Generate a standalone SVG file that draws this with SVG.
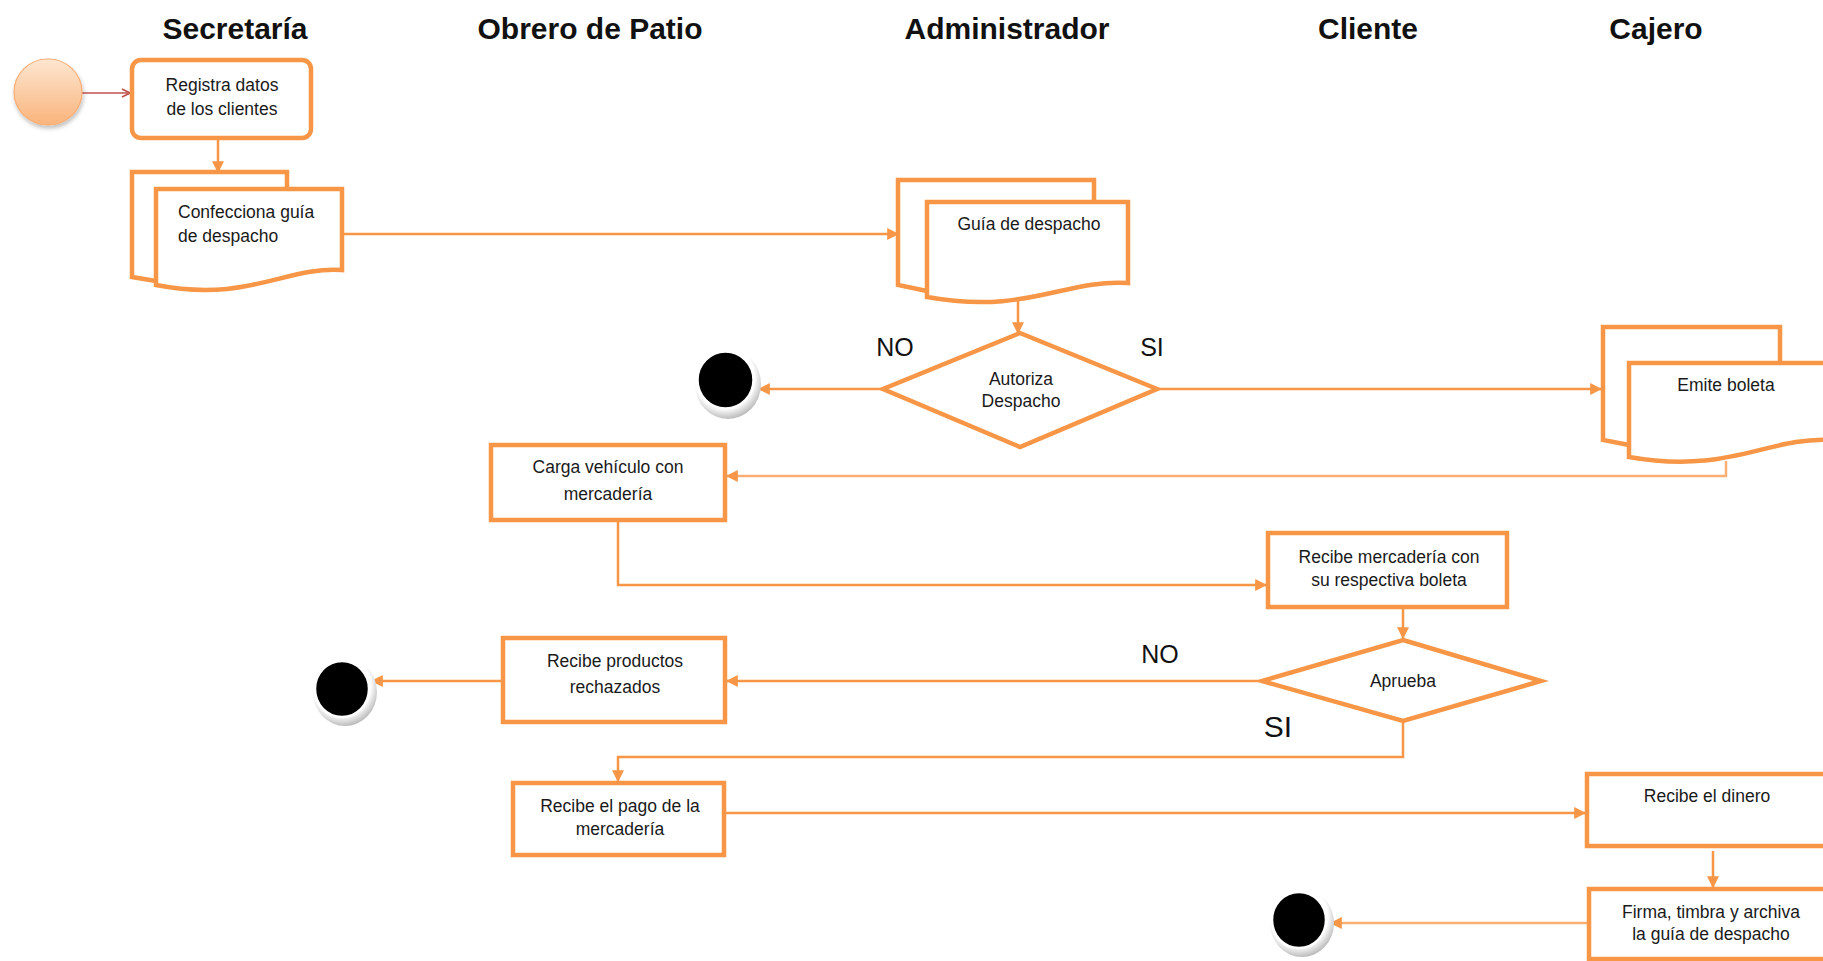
<svg xmlns="http://www.w3.org/2000/svg" width="1823" height="961" viewBox="0 0 1823 961">
<defs>
<style>
.hdr{font-family:"Liberation Sans",Arial,sans-serif;font-weight:bold;font-size:30px;fill:#111;text-anchor:middle}
.t{font-family:"Liberation Sans",Arial,sans-serif;font-size:17.5px;fill:#1a1a1a;text-anchor:middle}
.tl{font-family:"Liberation Sans",Arial,sans-serif;font-size:17.5px;fill:#1a1a1a}
.lbl{font-family:"Liberation Sans",Arial,sans-serif;font-size:25px;fill:#111;text-anchor:middle}
.box{fill:#fff;stroke:#F79646;stroke-width:4.5}
.doc{fill:#fff;stroke:#F79646;stroke-width:4.5;stroke-linejoin:miter}
.con{fill:none;stroke:#F79646;stroke-width:2.5}
.con2{fill:none;stroke:#F9AE73;stroke-width:2.5}
</style>
<marker id="ah" viewBox="0 0 10 10" refX="9" refY="5" markerWidth="12" markerHeight="12" markerUnits="userSpaceOnUse" orient="auto">
<path d="M0,0 L10,5 L0,10 Z" fill="#F79646"/>
</marker>
<marker id="ahr" viewBox="0 0 10 10" refX="9" refY="5" markerWidth="10" markerHeight="10" markerUnits="userSpaceOnUse" orient="auto">
<path d="M1,1 L9,5 L1,9" fill="none" stroke="#C0504D" stroke-width="1.6"/>
</marker>
<linearGradient id="startg" x1="0" y1="0" x2="0" y2="1">
<stop offset="0" stop-color="#FDE6D1"/>
<stop offset="1" stop-color="#FAB47C"/>
</linearGradient>
<radialGradient id="endsh" cx="0.45" cy="0.4" r="0.6">
<stop offset="0.75" stop-color="#ffffff"/>
<stop offset="1" stop-color="#bdbdbd"/>
</radialGradient>
<filter id="sh" x="-30%" y="-30%" width="160%" height="170%">
<feDropShadow dx="1" dy="3" stdDeviation="2" flood-color="#000" flood-opacity="0.25"/>
</filter>
</defs>
<rect width="1823" height="961" fill="#fff"/>

<g id="headers">
<text class="hdr" x="235" y="39">Secretaría</text>
<text class="hdr" x="590" y="39">Obrero de Patio</text>
<text class="hdr" x="1007" y="39">Administrador</text>
<text class="hdr" x="1368" y="39">Cliente</text>
<text class="hdr" x="1656" y="39">Cajero</text>
</g>

<g id="connectors">
<line x1="82" y1="93" x2="130" y2="93" stroke="#C0504D" stroke-width="1.6" marker-end="url(#ahr)"/>
<line class="con" x1="218" y1="138" x2="218" y2="172" marker-end="url(#ah)"/>
<line class="con" x1="342" y1="234" x2="898" y2="234" marker-end="url(#ah)"/>
<line class="con" x1="1018" y1="301" x2="1018" y2="333" marker-end="url(#ah)"/>
<line class="con" x1="883" y1="389" x2="759" y2="389" marker-end="url(#ah)"/>
<line class="con" x1="1157" y1="389" x2="1601" y2="389" marker-end="url(#ah)"/>
<polyline class="con2" points="1726,461 1726,476 727,476" marker-end="url(#ah)"/>
<polyline class="con" points="618,520 618,585 1266,585" marker-end="url(#ah)"/>
<line class="con" x1="1403" y1="607" x2="1403" y2="638" marker-end="url(#ah)"/>
<line class="con" x1="1258" y1="681" x2="727" y2="681" marker-end="url(#ah)"/>
<line class="con" x1="503" y1="681" x2="372" y2="681" marker-end="url(#ah)"/>
<polyline class="con" points="1403,721 1403,757 618,757 618,781" marker-end="url(#ah)"/>
<line class="con" x1="724" y1="813" x2="1585" y2="813" marker-end="url(#ah)"/>
<line class="con" x1="1713" y1="851" x2="1713" y2="887" marker-end="url(#ah)"/>
<line class="con2" x1="1589" y1="923" x2="1331" y2="923" marker-end="url(#ah)"/>
</g>

<g id="start">
<ellipse cx="48" cy="92" rx="34" ry="33" fill="url(#startg)" stroke="#F8AE75" stroke-width="1.2" filter="url(#sh)"/>
</g>

<g id="registra">
<rect class="box" x="132" y="60" width="179" height="78" rx="9"/>
<text class="t" x="222" y="91">Registra datos</text>
<text class="t" x="222" y="115">de los clientes</text>
</g>

<g id="confecciona">
<polyline class="doc" points="156,281 132,277 132,172 287,172 287,189"/>
<path class="doc" d="M156,189 H342 V270 C286,266 249,303 156,285 Z"/>
<text class="tl" x="178" y="218">Confecciona guía</text>
<text class="tl" x="178" y="242">de despacho</text>
</g>

<g id="guia">
<polyline class="doc" points="927,291 898,285 898,180 1094,180 1094,202"/>
<path class="doc" d="M927,202 H1128 V283 C1064,279 1027,315 927,297 Z"/>
<text class="t" x="1029" y="230">Guía de despacho</text>
</g>

<g id="autoriza">
<polygon class="doc" points="1020,333 1157,389 1020,447 883,389"/>
<text class="t" x="1021" y="385">Autoriza</text>
<text class="t" x="1021" y="407">Despacho</text>
</g>
<g id="labels1">
<text class="lbl" x="895" y="356">NO</text>
<text class="lbl" x="1152" y="356">SI</text>
</g>

<g id="end1">
<ellipse cx="728" cy="384" rx="33" ry="35" fill="url(#endsh)"/>
<ellipse cx="725.5" cy="380" rx="28" ry="28.5" fill="#000" stroke="#fff" stroke-width="2.5"/>
</g>

<g id="emite">
<polyline class="doc" points="1629,445 1603,440 1603,327 1780,327 1780,363"/>
<path class="doc" d="M1629,363 H1834 V440 C1767,436 1730,475 1629,457 Z"/>
<text class="t" x="1726" y="391">Emite boleta</text>
</g>

<g id="carga">
<rect class="box" x="491" y="445" width="234" height="75"/>
<text class="t" x="608" y="473">Carga vehículo con</text>
<text class="t" x="608" y="500">mercadería</text>
</g>

<g id="recibe-mercaderia">
<rect class="box" x="1268" y="533" width="239" height="74"/>
<text class="t" x="1389" y="563">Recibe mercadería con</text>
<text class="t" x="1389" y="586">su respectiva boleta</text>
</g>

<g id="aprueba">
<polygon class="doc" points="1403,640 1541,681 1403,721 1262,681"/>
<text class="t" x="1403" y="687">Aprueba</text>
</g>
<g id="labels2">
<text class="lbl" x="1160" y="663">NO</text>
<text class="lbl" x="1278" y="737" style="font-size:30px">SI</text>
</g>

<g id="recibe-productos">
<rect class="box" x="503" y="638" width="222" height="84"/>
<text class="t" x="615" y="667">Recibe productos</text>
<text class="t" x="615" y="693">rechazados</text>
</g>

<g id="end2">
<ellipse cx="345" cy="692" rx="32" ry="34" fill="url(#endsh)"/>
<ellipse cx="342" cy="689" rx="27" ry="28" fill="#000" stroke="#fff" stroke-width="2.5"/>
</g>

<g id="recibe-pago">
<rect class="box" x="513" y="783" width="211" height="72"/>
<text class="t" x="620" y="812">Recibe el pago de la</text>
<text class="t" x="620" y="835">mercadería</text>
</g>

<g id="recibe-dinero">
<rect class="box" x="1587" y="774" width="245" height="72"/>
<text class="t" x="1707" y="802">Recibe el dinero</text>
</g>

<g id="firma">
<rect class="box" x="1589" y="889" width="243" height="70"/>
<text class="t" x="1711" y="918">Firma, timbra y archiva</text>
<text class="t" x="1711" y="940">la guía de despacho</text>
</g>

<g id="end3">
<ellipse cx="1302" cy="923" rx="32" ry="34" fill="url(#endsh)"/>
<ellipse cx="1299" cy="920" rx="27" ry="28" fill="#000" stroke="#fff" stroke-width="2.5"/>
</g>
</svg>
